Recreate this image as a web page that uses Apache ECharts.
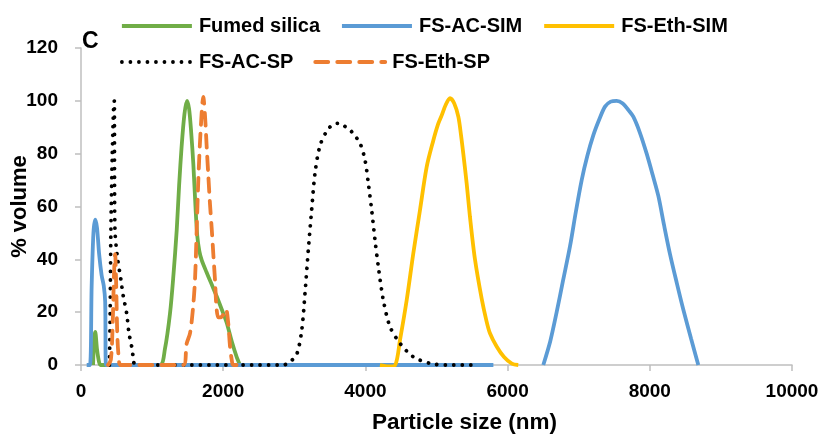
<!DOCTYPE html>
<html>
<head>
<meta charset="utf-8">
<title>Particle size distribution</title>
<script src="https://cdn.jsdelivr.net/npm/echarts@6/dist/echarts.min.js"></script>
<style>
  html, body { margin: 0; padding: 0; background: #fff; }
  #chart { width: 825px; height: 438px; }
</style>
</head>
<body>
<div id="chart"></div>
<script>
// Size distributions: [particle size (nm), % volume]
const fumedSilica = [
  [170, 0], [185, 10], [200, 12.5], [225, 6], [255, 1], [275, 0], [700, 0], [1110, 0],
  [1180, 6], [1252, 19.6], [1300, 34], [1346, 51], [1380, 68], [1416, 83], [1455, 95],
  [1490, 100], [1520, 97], [1550, 88], [1580, 76], [1610, 60], [1635, 49], [1665, 43],
  [1700, 39.5], [1760, 35.5], [1830, 31], [1908, 26], [1980, 21], [2049, 16], [2120, 9],
  [2190, 3], [2236, 0]
];
const fsAcSim = [
  [80, 0], [125, 0], [150, 30], [175, 50], [200, 55], [225, 52], [255, 42], [290, 34],
  [320, 30], [340, 24], [352, 0], [1500, 0], [3000, 0], [4500, 0], [5800, 0], [6200, '-'],
  [6502, 0], [6600, 9], [6690, 20], [6780, 32], [6878, 45], [6960, 58], [7042, 70],
  [7120, 79], [7206, 87], [7290, 93], [7370, 97.8], [7450, 99.7], [7534, 100], [7620, 99],
  [7700, 96.5], [7768, 94], [7860, 88], [7956, 80], [8040, 72], [8120, 64], [8200, 53],
  [8284, 42], [8380, 31], [8471, 21], [8580, 10], [8682, 0]
];
const fsEthSim = [
  [4205, 0], [4330, -0.5], [4420, 0], [4487, 9.5], [4581, 24.6], [4674, 42.3], [4768, 58.7],
  [4862, 75], [4955, 85], [5020, 91], [5073, 94.5], [5130, 98.5], [5190, 101], [5250, 99],
  [5307, 94], [5345, 87], [5377, 80], [5424, 68.8], [5471, 56], [5541, 40], [5636, 25],
  [5700, 17], [5752, 12], [5846, 7], [5950, 3], [6060, 0.5], [6150, 0]
];
const fsAcSp = [
  [400, 0], [410, 20], [420, 50], [440, 80], [458, 97], [469, 100], [472, 70], [478, 51],
  [511, 41], [563, 32], [595, 26], [642, 19.6], [675, 12], [712, 7], [740, 2], [760, 0],
  [1500, 0], [2845, 0], [2950, 1.5], [3034, 4], [3104, 13], [3150, 27], [3197, 43.6],
  [3244, 58.7], [3291, 72.6], [3361, 83], [3455, 88.5], [3540, 91], [3619, 91.5],
  [3700, 90.5], [3783, 89], [3860, 86.5], [3924, 84], [3994, 77.7], [4041, 68.8],
  [4088, 58.7], [4135, 47.3], [4182, 37.2], [4252, 24.6], [4346, 14.5], [4487, 8.2],
  [4674, 3.1], [4909, 0.6], [5143, 0], [5495, 0]
];
const fsEthSp = [
  [380, 0], [420, 2], [445, 15], [465, 35], [480, 42], [495, 30], [510, 12], [530, 3],
  [560, 0], [1000, 0], [1440, 0], [1485, 8], [1533, 12], [1570, 20], [1603, 32], [1627, 51],
  [1650, 70], [1683, 89], [1720, 101.5], [1745, 94], [1767, 83], [1790, 72], [1814, 61],
  [1840, 51], [1861, 42], [1885, 32], [1905, 22], [1930, 18], [1960, 18], [2000, 19],
  [2040, 21], [2070, 16], [2096, 7], [2120, 2], [2143, 0], [2300, 0]
];

const seriesNames = ['Fumed silica', 'FS-AC-SIM', 'FS-Eth-SIM', 'FS-AC-SP', 'FS-Eth-SP'];
const legendRowOne = ['Fumed silica', 'FS-AC-SIM', 'FS-Eth-SIM'];
const legendRowTwo = ['FS-AC-SP', 'FS-Eth-SP'];
const panelLabel = 'C';
const xAxisTitle = 'Particle size (nm)';
const yAxisTitle = '% volume';

const FONT = '"Liberation Sans", Arial, sans-serif';
const AXIS_GREY = '#bfbfbf';

const chart = echarts.init(document.getElementById('chart'), null, { renderer: 'canvas' });

function lineSeries(name, data, color, lineType, width) {
  return {
    name: name,
    type: 'line',
    data: data,
    smooth: 0.3,
    symbol: 'none',
    connectNulls: false,
    lineStyle: { color: color, width: width, type: lineType, cap: lineType === 'solid' ? 'butt' : 'round' },
    itemStyle: { color: color },
    emphasis: { disabled: true },
    animation: false
  };
}

function legendRow(items, top) {
  return {
    data: items,
    left: 120,
    top: top,
    padding: 0,
    itemWidth: 70,
    itemHeight: 14,
    itemGap: 20,
    selectedMode: false,
    itemStyle: { opacity: 0 },
    lineStyle: { width: 3.8 },
    textStyle: {
      fontFamily: FONT, fontWeight: 'bold', fontSize: 20, color: '#000',
      width: 125, padding: [0, 0, 0, 2]
    }
  };
}

chart.setOption({
  animation: false,
  title: {
    text: panelLabel,
    left: 82,
    top: 30,
    textStyle: { fontFamily: FONT, fontWeight: 'bold', fontSize: 23, color: '#000' },
    padding: 0
  },
  legend: [legendRow(legendRowOne, 16), legendRow(legendRowTwo, 52)],
  grid: { left: 81, right: 33, top: 48, bottom: 73, containLabel: false, outerBoundsMode: 'none' },
  xAxis: {
    type: 'value',
    min: 0, max: 10000, interval: 2000,
    name: xAxisTitle,
    nameLocation: 'middle',
    nameGap: 46,
    nameMoveOverlap: false,
    nameTextStyle: { fontFamily: FONT, fontWeight: 'bold', fontSize: 22.5, color: '#000', padding: [0, 0, 0, 56] },
    axisLine: { lineStyle: { color: AXIS_GREY, width: 1.5 } },
    axisTick: { show: true, length: 6, lineStyle: { color: AXIS_GREY, width: 1.5 } },
    axisLabel: { fontFamily: FONT, fontWeight: 'bold', fontSize: 19, color: '#000', margin: 17,
      formatter: (v) => String(v) },
    splitLine: { show: false }
  },
  yAxis: {
    type: 'value',
    min: 0, max: 120, interval: 20,
    name: yAxisTitle,
    nameLocation: 'middle',
    nameGap: 50,
    nameMoveOverlap: false,
    nameTextStyle: { fontFamily: FONT, fontWeight: 'bold', fontSize: 22, color: '#000' },
    axisLine: { show: true, lineStyle: { color: AXIS_GREY, width: 1.5 } },
    axisTick: { show: true, length: 6, lineStyle: { color: AXIS_GREY, width: 1.5 } },
    axisLabel: { fontFamily: FONT, fontWeight: 'bold', fontSize: 19, color: '#000', margin: 23,
      formatter: (v) => String(v) },
    splitLine: { show: false }
  },
  series: [
    lineSeries(seriesNames[0], fumedSilica, '#70ad47', 'solid', 3.8),
    lineSeries(seriesNames[1], fsAcSim, '#5b9bd5', 'solid', 3.8),
    lineSeries(seriesNames[2], fsEthSim, '#ffc000', 'solid', 3.8),
    lineSeries(seriesNames[3], fsAcSp, '#000000', [0.01, 8.5], 3.8),
    lineSeries(seriesNames[4], fsEthSp, '#ed7d31', [13, 9], 3.8)
  ]
});
</script>
</body>
</html>
